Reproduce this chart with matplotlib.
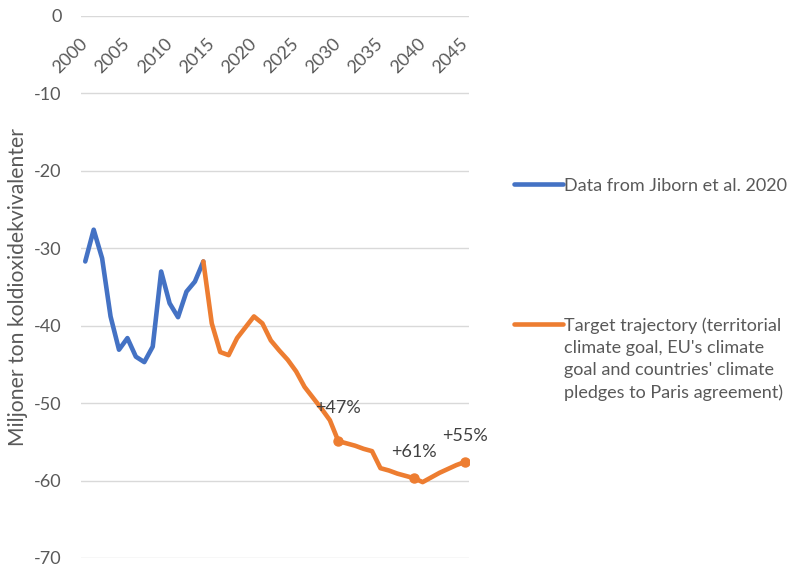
import matplotlib.pyplot as plt
import numpy as np

plt.rcParams['font.family'] = ['Lato', 'DejaVu Sans']
plt.rcParams['axes.unicode_minus'] = False

years = np.arange(2000, 2046)

# historic data 2000-2014
hist_years = years[:15]
hist_vals = [-31.7, -27.6, -31.3, -38.8, -43.1, -41.6, -44.0, -44.7, -42.7,
             -33.0, -37.1, -38.9, -35.6, -34.3, -31.7]

# target trajectory 2014-2045
target_years = years[14:]
target_vals = [-31.7, -39.7, -43.4, -43.8, -41.6, -40.2, -38.8, -39.7, -41.9,
               -43.2, -44.4, -45.9, -47.9, -49.3, -50.7, -52.2, -54.9, -55.2,
               -55.5, -55.9, -56.2, -58.4, -58.7, -59.1, -59.4, -59.7, -60.2,
               -59.6, -59.0, -58.5, -58.0, -57.6]

label_years = [2030, 2039, 2045]
label_texts = ['+47%', '+61%', '+55%']
label_offsets = [24, 19, 19]

blue = '#4472C4'
orange = '#ED7D31'
grey = '#595959'

fig = plt.figure(figsize=(7.96, 5.69), dpi=100)
ax = fig.add_axes([0.1018, 1 - 558 / 569, (469 - 81) / 796, (558 - 16) / 569])

ax.plot(hist_years, hist_vals, color=blue, lw=3.3, solid_capstyle='round',
        solid_joinstyle='round', label='Data from Jiborn et al. 2020')
ax.plot(target_years, target_vals, color=orange, lw=3.3, solid_capstyle='round',
        solid_joinstyle='round',
        label="Target trajectory (territorial\nclimate goal, EU's climate\n"
              "goal and countries' climate\npledges to Paris agreement)")

for yr, txt, off in zip(label_years, label_texts, label_offsets):
    v = target_vals[list(target_years).index(yr)]
    ax.plot(yr, v, 'o', color=orange, ms=6.5)
    ax.annotate(txt, (yr, v), xytext=(0, off), textcoords='offset points',
                ha='center', va='center', fontsize=13, color='#404040')

ax.set_xlim(1999.5, 2045.5)
ax.set_ylim(-70, 0)
ax.set_yticks(np.arange(-70, 1, 10))
ax.set_xticks(years[::5])
ax.set_xticklabels([str(y) for y in years[::5]])
ax.tick_params(axis='x', length=0, bottom=False, labelbottom=False,
               top=False, labeltop=True, pad=-18, labelsize=13, colors=grey)
for lab in ax.get_xticklabels():
    lab.set_rotation(45)
    lab.set_rotation_mode('anchor')
    lab.set_ha('right')
    lab.set_va('center')
ax.tick_params(axis='y', length=0, pad=14, labelsize=13, colors=grey)
ax.grid(axis='y', color='#D9D9D9', lw=1)
ax.set_axisbelow(True)
for s in ax.spines.values():
    s.set_visible(False)

ax.set_ylabel('Miljoner ton koldioxidekvivalenter', fontsize=15.2, color=grey,
              labelpad=4)

leg = ax.legend(loc='upper left', bbox_to_anchor=(514 / 796, 1 - 178 / 569),
                bbox_transform=fig.transFigure, frameon=False, fontsize=13,
                handlelength=2.7, handletextpad=0.05, labelspacing=6.85,
                borderpad=0, borderaxespad=0, labelcolor=grey)
for col in leg._legend_handle_box.get_children():
    for item in col.get_children():
        item.align = 'top'
for t in leg.get_texts():
    t.set_linespacing(1.45)

fig.savefig('out.png', dpi=100)
